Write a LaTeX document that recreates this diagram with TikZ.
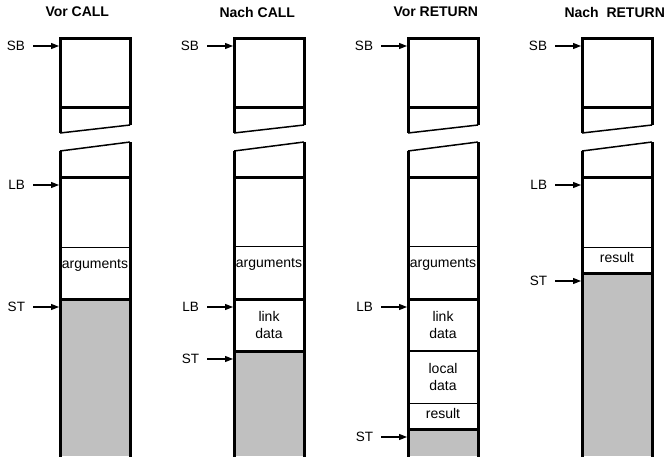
\documentclass[tikz,border=0pt]{standalone}
\usepackage{fontspec}
\setmainfont{Liberation Sans}
\usetikzlibrary{positioning,arrows.meta}
\definecolor{stackgray}{RGB}{192,192,192}
\tikzset{
  wall/.style={line width=3pt},
  slant/.style={line width=1.5pt},
  sep/.style={line width=1pt},
  midsep/.style={line width=2pt},
  used/.style={fill=stackgray},
  title/.style={anchor=west,font=\fontsize{14}{16}\selectfont\bfseries},
  lbl/.style={inner sep=0pt,outer xsep=8pt,font=\fontsize{13.5}{15}\selectfont},
  cell/.style={align=center,inner sep=0pt,font=\fontsize{14}{17}\selectfont},
  ptr/.style={line width=1.2pt,-{Triangle[length=8pt,width=6pt]}}
}
\begin{document}
\begin{tikzpicture}[x=1pt,y=-1pt]
  \useasboundingbox (0,0) rectangle (666,456);
  % used part of the stack
  \fill[used] (60,299) rectangle (130,456);
  \fill[used] (234,351) rectangle (304,456);
  \fill[used] (408,429) rectangle (478,456);
  \fill[used] (582,273) rectangle (652,456);
  % titles
  \node[title] (t1) at (42,12) {Vor CALL};
  \node[title] (t2) at (216,12) {Nach CALL};
  \node[title] (t3) at (390,12) {Vor RETURN};
  \node[title] (t4) at (561,12) {Nach\ \ RETURN};
  % common frame of each stack
  \foreach \l in {60,234,408,582}{
    \pgfmathsetmacro{\r}{\l+70}
    \draw[wall,line join=miter] (\l,133) -- (\l,38) -- (\r,38) -- (\r,125);
    \draw[slant] (\l,133) -- (\r,125);
    \draw[wall] (\l,107) -- (\r,107);
    \draw[slant] (\l,151) -- (\r,142);
    \draw[wall] (\l,151) -- (\l,458);
    \draw[wall] (\r,142) -- (\r,458);
    \draw[wall] (\l,177) -- (\r,177);
  }
  % stack 1: Vor CALL
  \draw[sep] (60,247) -- (130,247);
  \node[cell] (arg1) at (95,265) {arguments};
  \draw[wall] (60,299) -- (130,299);
  % stack 2: Nach CALL
  \draw[sep] (234,246) -- (304,246);
  \node[cell] (arg2) at (269,264) {arguments};
  \draw[wall] (234,299) -- (304,299);
  \node[cell] (link2) at (269,325) {link\\data};
  \draw[wall] (234,351) -- (304,351);
  % stack 3: Vor RETURN
  \draw[sep] (408,246) -- (478,246);
  \node[cell] (arg3) at (443,264) {arguments};
  \draw[wall] (408,299) -- (478,299);
  \node[cell] (link3) at (443,325) {link\\data};
  \draw[midsep] (408,351) -- (478,351);
  \node[cell] (loc3) at (443,377) {local\\data};
  \draw[sep] (408,403) -- (478,403);
  \node[cell] (res3) at (443,413) {result};
  \draw[wall] (408,429) -- (478,429);
  % stack 4: Nach RETURN
  \draw[sep] (582,247) -- (652,247);
  \node[cell] (res4) at (617,257) {result};
  \draw[wall] (582,273) -- (652,273);
  % pointers
  \coordinate (sb1) at (59,46);
  \coordinate (lb1) at (59,185);
  \coordinate (st1) at (59,307);
  \coordinate (sb2) at (233,46);
  \coordinate (lb2) at (233,307);
  \coordinate (st2) at (233,359);
  \coordinate (sb3) at (407,46);
  \coordinate (lb3) at (407,307);
  \coordinate (st3) at (407,437);
  \coordinate (sb4) at (581,46);
  \coordinate (lb4) at (581,185);
  \coordinate (st4) at (581,281);
  \foreach \c/\t in {sb1/SB,lb1/LB,st1/ST,sb2/SB,lb2/LB,st2/ST,
                     sb3/SB,lb3/LB,st3/ST,sb4/SB,lb4/LB,st4/ST}{
    \node[lbl,left=26pt of \c] (\c-l) {\t};
    \draw[ptr] (\c-l.east) -- (\c);
  }
\end{tikzpicture}
\end{document}
